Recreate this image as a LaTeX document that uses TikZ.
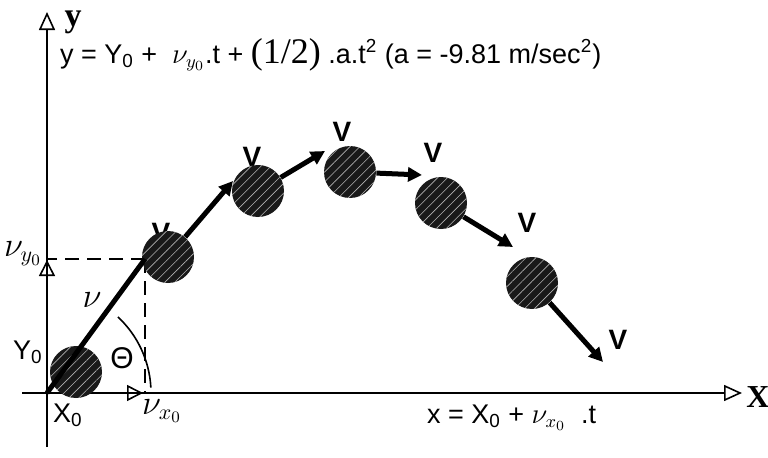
\documentclass[tikz,border=0pt]{standalone}
\usepackage{fontspec}
\setmainfont{Liberation Sans}
\newfontfamily\serifface{Liberation Serif}
\usetikzlibrary{arrows.meta,patterns.meta}

\begin{document}
\begin{tikzpicture}[
    x=0.5pt, y=0.5pt,
    font=\fontsize{13.5}{16}\selectfont,
    axis/.style={line width=1pt, -{Triangle[open, length=9pt, width=8pt, line width=0.8pt]}},
    comp/.style={line width=1pt, -{Triangle[open, length=8pt, width=8pt, line width=0.8pt]}},
    ball/.style={circle, minimum size=26pt, inner sep=0pt, fill=black!90,
        postaction={pattern={Lines[angle=45, distance=3.5pt, line width=0.3pt]}, pattern color=gray!60}},
    vel/.style={line width=2.5pt, -{Triangle[length=7pt, width=7pt]}},
    vlab/.style={font=\fontsize{14}{16}\selectfont\bfseries},
    nulab/.style={font=\fontsize{16}{16}\selectfont},
    axlab/.style={font=\fontsize{16}{16}\selectfont\serifface\bfseries},
    guide/.style={line width=1pt, dash pattern=on 7pt off 4pt}
]
\useasboundingbox (0,0) rectangle (768,457);

\coordinate (o) at (47,64);
\coordinate (ytop) at (47,445);
\coordinate (ybot) at (47,10);
\coordinate (xleft) at (22,64);
\coordinate (xright) at (742,64);
\coordinate (vt) at (145,198);
\coordinate (vy) at (47,197);
\coordinate (vx) at (143,64);
\coordinate (t2) at (233,276);
\coordinate (t3) at (325,306);
\coordinate (t4) at (422,282);
\coordinate (t5) at (513,210);
\coordinate (t6) at (603,95);

\draw[axis] (ybot) -- (ytop);
\draw[axis] (xleft) -- (xright);
\draw[comp] (o) -- (vy);
\draw[comp] (o) -- (vx);
\draw[guide] (vt) -- (vt -| o);
\draw[guide] (vt) -- (vt |- o);
\draw[line width=0.8pt] (o) ++(47:52pt) arc[start angle=47, end angle=3, radius=52pt];

\node[vlab] (l2) at (161,224) {V};
\node[vlab] (l3) at (252,300) {V};
\node[vlab] (l4) at (342,325) {V};
\node[vlab] (l5) at (433,304) {V};
\node[vlab] (l6) at (527,234) {V};
\node[vlab] (l7) at (618,117) {V};

\node[ball] (b1) at (76,85) {};
\node[ball] (b2) at (168,200) {};
\node[ball] (b3) at (258,266) {};
\node[ball] (b4) at (350,285) {};
\node[ball] (b5) at (441,254) {};
\node[ball] (b6) at (532,174) {};

\draw[line width=2.5pt] (o) -- (vt);
\draw[vel] (b2) -- (t2);
\draw[vel] (b3) -- (t3);
\draw[vel] (b4) -- (t4);
\draw[vel] (b5) -- (t5);
\draw[vel] (b6) -- (t6);

\node[axlab, font=\fontsize{17}{17}\selectfont\serifface\bfseries] (ylab) at (73,435) {y};
\node[axlab] (xlab) at (758,60) {X};
\node[anchor=base west] (ey) at (53,394) {y = Y\textsubscript{0} +\ \ $\nu_{y_0}$.t + {\serifface\fontsize{18}{18}\selectfont(1/2)} .a.t\textsuperscript{2} (a = -9.81 m/sec\textsuperscript{2})};
\node[anchor=base west] (ex) at (420,34) {x = X\textsubscript{0} + $\nu_{x_0}$\ \ .t};
\node (y0) at (28,105) {Y\textsubscript{0}};
\node[nulab] (vy0) at (23,203) {$\nu_{y_0}$};
\node[nulab] (vsm) at (92,157) {$\nu$};
\node[font=\fontsize{15}{16}\selectfont] (th) at (122,99) {Θ};
\node (x0) at (68,42) {X\textsubscript{0}};
\node[nulab] (vx0) at (162,46) {$\nu_{x_0}$};
\end{tikzpicture}
\end{document}
